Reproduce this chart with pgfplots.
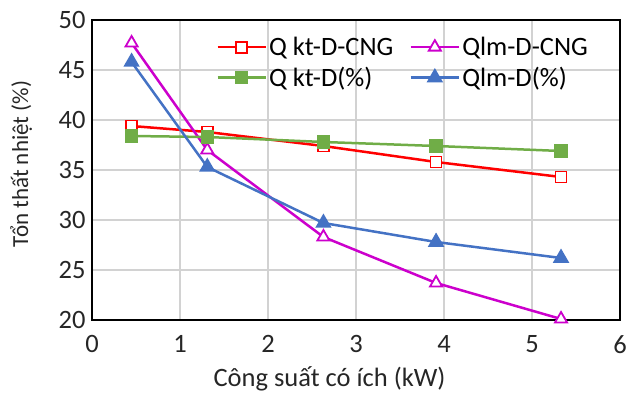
\documentclass[border=0pt]{standalone}
\usepackage{fontspec}
\setmainfont{Carlito}
\usepackage{pgfplots}
\pgfplotsset{compat=1.18}
\definecolor{cred}{RGB}{255,0,0}
\definecolor{cpur}{RGB}{204,0,204}
\definecolor{cgreen}{RGB}{112,173,71}
\definecolor{cblue}{RGB}{68,114,196}
\definecolor{cgrid}{RGB}{210,210,210}
\begin{document}
\begin{tikzpicture}
\path[use as bounding box] (-92pt,-74pt) rectangle (538pt,320pt);
\begin{axis}[
  at={(0,0)}, anchor=south west,
  scale only axis, width=528pt, height=300pt,
  xmin=0, xmax=6, ymin=20, ymax=50,
  xtick={0,1,...,6}, ytick={20,25,...,50},
  major tick length=0pt,
  grid=major,
  major grid style={cgrid, line width=1.2pt},
  axis line style={black, line width=1.5pt},
  /pgf/number format/assume math mode=true,
  tick label style={font=\fontsize{26.5}{30}\selectfont, text=black!85},
  xticklabel style={yshift=-12pt},
  yticklabel style={xshift=-3pt},
  xlabel={Công suất có ích (kW)},
  ylabel={Tổn thất nhiệt (\%)},
  xlabel style={font=\fontsize{26.5}{30}\selectfont, text=black!85,
    at={(axis description cs:0.45,-0.195)}, anchor=center},
  ylabel style={font=\fontsize{23}{27}\selectfont, text=black!85,
    at={(axis description cs:-0.134,0.52)}, anchor=center},
  legend columns=2,
  legend cell align=left,
  legend style={at={(axis description cs:0.235,0.95)}, anchor=north west,
    draw=none, fill=none, font=\fontsize{26.5}{30}\selectfont,
    /tikz/every even column/.append style={column sep=14pt},
    row sep=6pt, inner sep=0pt},
  legend image code/.code={
    \draw[#1, mark=none] (0cm,0cm) -- (1.7cm,0cm);
    \draw[#1, only marks] plot coordinates {(0.85cm,0cm)};
  },
]
\addplot[cred, line width=2.5pt, mark=square*, mark size=5.5pt, mark options={fill=white, line width=1.8pt}]
  coordinates {(0.45,39.4) (1.31,38.8) (2.63,37.4) (3.91,35.8) (5.33,34.3)};
\addlegendentry{Q kt-D-CNG}
\addplot[cpur, line width=2.5pt, mark=triangle*, mark size=7pt, mark options={fill=white, line width=1.8pt}]
  coordinates {(0.45,47.7) (1.31,37.0) (2.63,28.3) (3.91,23.7) (5.33,20.1)};
\addlegendentry{Qlm-D-CNG}
\addplot[cgreen, line width=2.5pt, mark=square*, mark size=5.5pt, mark options={fill=cgreen}]
  coordinates {(0.45,38.4) (1.31,38.3) (2.63,37.8) (3.91,37.4) (5.33,36.9)};
\addlegendentry{Q kt-D(\%)}
\addplot[cblue, line width=2.5pt, mark=triangle*, mark size=7pt, mark options={fill=cblue}]
  coordinates {(0.45,45.8) (1.31,35.3) (2.63,29.7) (3.91,27.8) (5.33,26.2)};
\addlegendentry{Qlm-D(\%)}
\end{axis}
\end{tikzpicture}
\end{document}
